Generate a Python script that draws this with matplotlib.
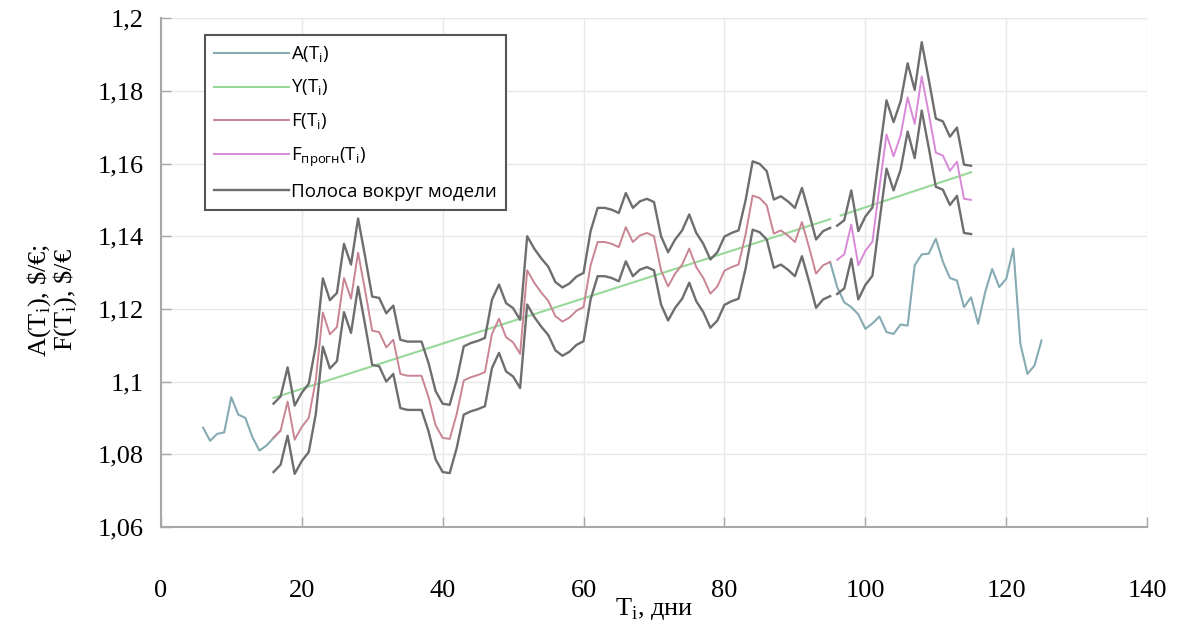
import matplotlib
matplotlib.use("Agg")
import matplotlib.pyplot as plt
from matplotlib.ticker import FuncFormatter, MultipleLocator

# ---------------- DATA ----------------
# actual rate A(T), visible parts only (in between it is hidden under F)
a_t_left = [6, 7, 8, 9, 10, 11, 12, 13, 14, 15, 16, 17]
a_left = [1.0873, 1.0837, 1.0856, 1.0860, 1.0957, 1.0909, 1.0900, 1.0847,
          1.0810, 1.0824, 1.0845, 1.0865]
a_t_right = [95, 96, 97, 98, 99, 100, 101, 102, 103, 104, 105, 106, 107, 108,
             109, 110, 111, 112, 113, 114, 115, 116, 117, 118, 119, 120, 121,
             122, 123, 124, 125]
a_right = [1.1329, 1.1260, 1.1218, 1.1205, 1.1185, 1.1145, 1.1160, 1.1179,
           1.1136, 1.1131, 1.1157, 1.1154, 1.1320, 1.1350, 1.1352, 1.1393,
           1.1330, 1.1285, 1.1278, 1.1205, 1.1232, 1.1159, 1.1246, 1.1310,
           1.1260, 1.1283, 1.1366, 1.1104, 1.1021, 1.1044, 1.1113]

# trend Y(T)
y_t1 = [16, 95]
y_1 = [1.0955, 1.1447]
y_t2 = [96.5, 115]
y_2 = [1.1457, 1.1576]

# model F(T), days 16..95
f_t = list(range(16, 96))
f_model = [1.0845, 1.0865, 1.0945, 1.0840, 1.0875, 1.0900, 1.1005, 1.1190,
           1.1130, 1.1150, 1.1285, 1.1228, 1.1355, 1.1250, 1.1140, 1.1136,
           1.1094, 1.1115, 1.1021, 1.1016, 1.1016, 1.1016, 1.0957, 1.0880,
           1.0845, 1.0842, 1.0911, 1.1003, 1.1012, 1.1018, 1.1026, 1.1131,
           1.1173, 1.1122, 1.1108, 1.1076, 1.1306, 1.1272, 1.1245, 1.1222,
           1.1180, 1.1165, 1.1176, 1.1195, 1.1205, 1.1320, 1.1384, 1.1384,
           1.1379, 1.1370, 1.1425, 1.1384, 1.1402, 1.1409, 1.1400, 1.1306,
           1.1262, 1.1297, 1.1322, 1.1366, 1.1315, 1.1285, 1.1242, 1.1262,
           1.1305, 1.1315, 1.1322, 1.1405, 1.1512, 1.1505, 1.1485, 1.1407,
           1.1416, 1.1402, 1.1384, 1.1439, 1.1370, 1.1297, 1.1320, 1.1329]
f_upper = [1.0939, 1.0959, 1.1039, 1.0934, 1.0969, 1.0994, 1.1099, 1.1284,
           1.1224, 1.1244, 1.1379, 1.1322, 1.1449, 1.1344, 1.1234, 1.1230,
           1.1188, 1.1209, 1.1115, 1.1110, 1.1110, 1.1110, 1.1051, 1.0974,
           1.0939, 1.0936, 1.1005, 1.1097, 1.1106, 1.1112, 1.1120, 1.1225,
           1.1267, 1.1216, 1.1202, 1.1170, 1.1400, 1.1366, 1.1339, 1.1316,
           1.1274, 1.1259, 1.1270, 1.1289, 1.1299, 1.1414, 1.1478, 1.1478,
           1.1473, 1.1464, 1.1519, 1.1478, 1.1496, 1.1503, 1.1494, 1.1400,
           1.1356, 1.1391, 1.1416, 1.1460, 1.1409, 1.1379, 1.1336, 1.1356,
           1.1399, 1.1409, 1.1416, 1.1499, 1.1606, 1.1599, 1.1579, 1.1501,
           1.1510, 1.1496, 1.1478, 1.1533, 1.1464, 1.1391, 1.1414, 1.1423]
f_lower = [1.0751, 1.0771, 1.0851, 1.0746, 1.0781, 1.0806, 1.0911, 1.1096,
           1.1036, 1.1056, 1.1191, 1.1134, 1.1261, 1.1156, 1.1046, 1.1042,
           1.1000, 1.1021, 1.0927, 1.0922, 1.0922, 1.0922, 1.0863, 1.0786,
           1.0751, 1.0748, 1.0817, 1.0909, 1.0918, 1.0924, 1.0932, 1.1037,
           1.1079, 1.1028, 1.1014, 1.0982, 1.1212, 1.1178, 1.1151, 1.1128,
           1.1086, 1.1071, 1.1082, 1.1101, 1.1111, 1.1226, 1.1290, 1.1290,
           1.1285, 1.1276, 1.1331, 1.1290, 1.1308, 1.1315, 1.1306, 1.1212,
           1.1168, 1.1203, 1.1228, 1.1272, 1.1221, 1.1191, 1.1148, 1.1168,
           1.1211, 1.1221, 1.1228, 1.1311, 1.1418, 1.1411, 1.1391, 1.1313,
           1.1322, 1.1308, 1.1290, 1.1345, 1.1276, 1.1203, 1.1226, 1.1235]

# forecast F_прогн(T), days 96..115
p_t = list(range(96, 116))
f_prog = [1.1335, 1.1350, 1.1432, 1.1320, 1.1360, 1.1385, 1.1535, 1.1680,
          1.1620, 1.1677, 1.1782, 1.1709, 1.1840, 1.1737, 1.1630, 1.1622,
          1.1580, 1.1605, 1.1503, 1.1500]
p_upper = [1.1429, 1.1444, 1.1526, 1.1414, 1.1454, 1.1479, 1.1629, 1.1774,
           1.1714, 1.1771, 1.1876, 1.1803, 1.1934, 1.1831, 1.1724, 1.1716,
           1.1674, 1.1699, 1.1597, 1.1594]
p_lower = [1.1241, 1.1256, 1.1338, 1.1226, 1.1266, 1.1291, 1.1441, 1.1586,
           1.1526, 1.1583, 1.1688, 1.1615, 1.1746, 1.1643, 1.1536, 1.1528,
           1.1486, 1.1511, 1.1409, 1.1406]

# ---------------- PLOT ----------------
c_a = '#86abb3'
c_y = '#98d898'
c_f = '#c98593'
c_p = '#d88ad8'
c_band = '#6e6e6e'

fig = plt.figure(figsize=(12, 6.28), dpi=100)
ax = fig.add_axes([0.134, 0.161, 0.822, 0.810])

ax.plot(a_t_left, a_left, color=c_a, lw=1.5, zorder=2, label='A(T$_\\mathregular{i}$)')
ax.plot(a_t_right, a_right, color=c_a, lw=1.5, zorder=2)
ax.plot(y_t1, y_1, color=c_y, lw=1.5, zorder=3, label='Y(T$_\\mathregular{i}$)')
ax.plot(y_t2, y_2, color=c_y, lw=1.5, zorder=3)
ax.plot(f_t, f_model, color=c_f, lw=1.4, zorder=4, label='F(T$_\\mathregular{i}$)')
ax.plot(p_t, f_prog, color=c_p, lw=1.4, zorder=4,
        label='F$_\\mathregular{прогн}$(T$_\\mathregular{i}$)')
ax.plot(f_t, f_upper, color=c_band, lw=1.7, zorder=5, label='Полоса вокруг модели')
ax.plot(f_t, f_lower, color=c_band, lw=1.7, zorder=5)
ax.plot(p_t, p_upper, color=c_band, lw=1.7, zorder=5)
ax.plot(p_t, p_lower, color=c_band, lw=1.7, zorder=5)

ax.set_xlim(0, 140)
ax.set_ylim(1.06, 1.2)
ax.xaxis.set_major_locator(MultipleLocator(20))
ax.yaxis.set_major_locator(MultipleLocator(0.02))
ax.yaxis.set_major_formatter(FuncFormatter(lambda v, p: ('%g' % round(v, 2)).replace('.', ',')))

ax.grid(True, color='#e8e8e8', lw=1.0, zorder=0)
ax.set_axisbelow(True)
for s in ['top', 'right']:
    ax.spines[s].set_visible(False)
for s in ['left', 'bottom']:
    ax.spines[s].set_color('#a8a8a8')
    ax.spines[s].set_linewidth(1.5)
ax.tick_params(direction='in', length=7, width=1, color='#a8a8a8', labelsize=19)
ax.tick_params(axis='x', pad=38)
ax.tick_params(axis='y', pad=12)
for lbl in ax.get_xticklabels() + ax.get_yticklabels():
    lbl.set_family('Liberation Serif')

ax.set_xlabel('T$_\\mathregular{i}$, дни', family='Liberation Serif', fontsize=19)
ax.xaxis.set_label_coords(0.5, -0.135)
ax.set_ylabel('A(T$_\\mathregular{i}$), \\$/€;\nF(T$_\\mathregular{i}$), \\$/€',
              family='Liberation Serif', fontsize=19, linespacing=0.9)
ax.yaxis.set_label_coords(-0.083, 0.446)

leg = ax.legend(loc='upper left', bbox_to_anchor=(0.0446, 0.967), borderaxespad=0,
                prop={'family': 'Open Sans', 'size': 13.5}, handlelength=4.0,
                handletextpad=0.1, labelspacing=0.72, fancybox=False,
                framealpha=1, edgecolor='#555555', borderpad=0.5)
leg.get_frame().set_linewidth(1.5)

fig.savefig('out.png', dpi=100)
